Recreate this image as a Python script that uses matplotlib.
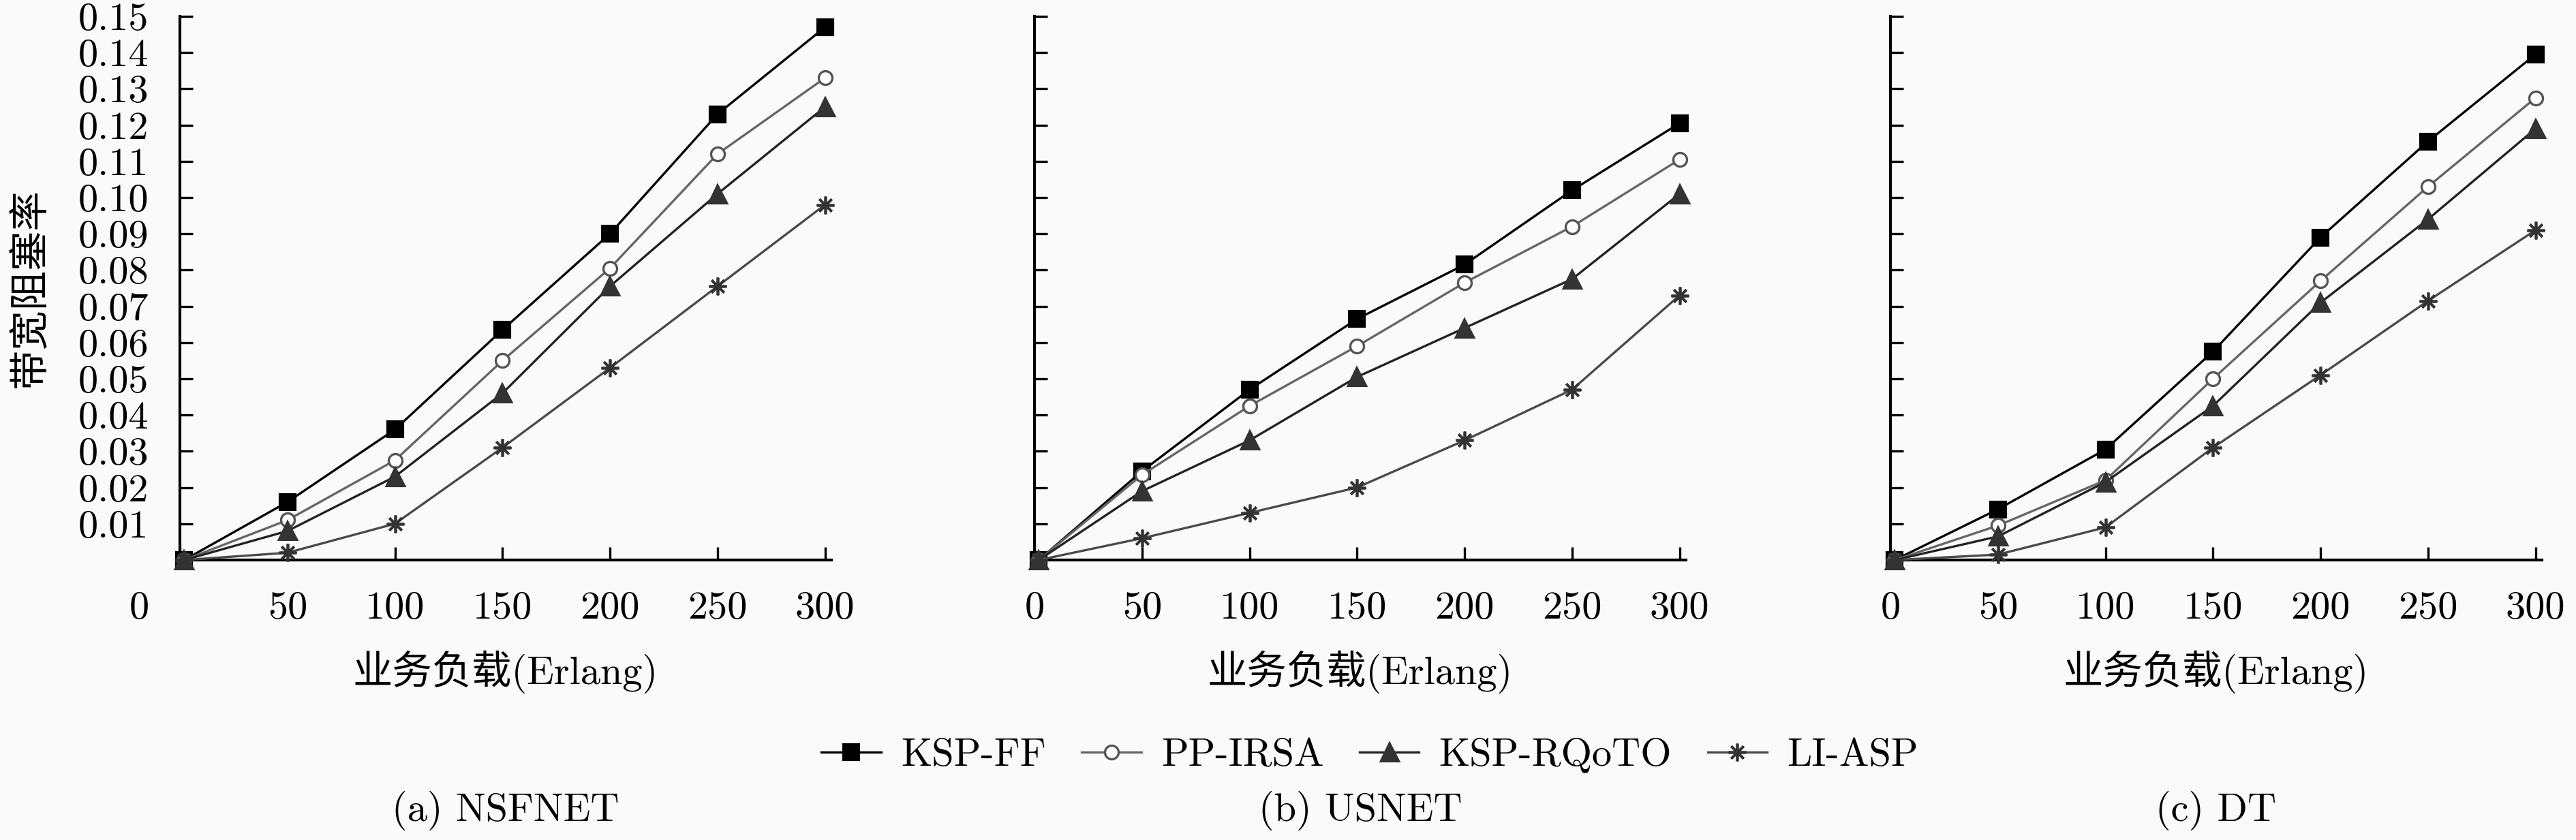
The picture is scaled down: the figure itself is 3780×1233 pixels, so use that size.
import matplotlib
matplotlib.use("Agg")
import matplotlib.pyplot as plt
from matplotlib.transforms import ScaledTranslation
import numpy as np

plt.rcParams['font.family'] = ['cmr10', 'Noto Sans CJK SC', 'DejaVu Sans']
plt.rcParams['axes.unicode_minus'] = False
plt.rcParams['mathtext.fontset'] = 'cm'

# ---------------- data ----------------
loads = [2, 50, 100, 150, 200, 250, 300]
series_names = ["KSP-FF", "PP-IRSA", "KSP-RQoTO", "LI-ASP"]
panel_titles = ["(a) NSFNET", "(b) USNET", "(c) DT"]

nsfnet_ksp_ff = [0.0, 0.016, 0.036, 0.0635, 0.090, 0.123, 0.147]
nsfnet_pp_irsa = [0.0, 0.011, 0.0275, 0.055, 0.0805, 0.112, 0.133]
nsfnet_ksp_rqoto = [0.0, 0.008, 0.023, 0.046, 0.0755, 0.101, 0.125]
nsfnet_li_asp = [0.0, 0.002, 0.010, 0.031, 0.053, 0.0755, 0.098]

usnet_ksp_ff = [0.0, 0.0245, 0.047, 0.0665, 0.0815, 0.102, 0.1205]
usnet_pp_irsa = [0.0, 0.0235, 0.0425, 0.059, 0.0765, 0.092, 0.1105]
usnet_ksp_rqoto = [0.0, 0.019, 0.033, 0.0505, 0.064, 0.0775, 0.101]
usnet_li_asp = [0.0, 0.006, 0.013, 0.020, 0.033, 0.047, 0.073]

dt_ksp_ff = [0.0, 0.014, 0.0305, 0.0575, 0.089, 0.1155, 0.1395]
dt_pp_irsa = [0.0, 0.0095, 0.022, 0.050, 0.077, 0.103, 0.1275]
dt_ksp_rqoto = [0.0, 0.0065, 0.0215, 0.0425, 0.071, 0.094, 0.119]
dt_li_asp = [0.0, 0.0015, 0.009, 0.031, 0.051, 0.0715, 0.091]

panels = [
    [nsfnet_ksp_ff, nsfnet_pp_irsa, nsfnet_ksp_rqoto, nsfnet_li_asp],
    [usnet_ksp_ff, usnet_pp_irsa, usnet_ksp_rqoto, usnet_li_asp],
    [dt_ksp_ff, dt_pp_irsa, dt_ksp_rqoto, dt_li_asp],
]

x_ticks = [0, 50, 100, 150, 200, 250, 300]
y_ticks = [i / 100 for i in range(16)]
y_tick_labels = [""] + ["%.2f" % v for v in y_ticks[1:]]
xlabel = "业务负载(Erlang)"
ylabel = "带宽阻塞率"

# ---------------- styles ----------------
styles = [
    dict(color="#000000", marker="s", markersize=5.2, markerfacecolor="#000000",
         markeredgecolor="#000000", linewidth=0.8),
    dict(color="#666666", marker="o", markersize=4.8, markerfacecolor="white",
         markeredgecolor="#555555", markeredgewidth=0.8, linewidth=0.8),
    dict(color="#222222", marker="^", markersize=6.0, markerfacecolor="#333333",
         markeredgecolor="#333333", linewidth=0.8),
    dict(color="#4a4a4a", marker=(8, 2, 0), markersize=6.2, markerfacecolor="#333333",
         markeredgecolor="#333333", markeredgewidth=0.9, linewidth=0.8),
]

W, H = 3780, 1233
dpi = 300
fig = plt.figure(figsize=(W / dpi, H / dpi), dpi=dpi, facecolor="#fafafa")

lefts = [264, 1518, 2774]
ax_w = 956
ax_top = 24
ax_bot = 822
fs = 14

handles = []
for p, (left, data) in enumerate(zip(lefts, panels)):
    ax = fig.add_axes([left / W, 1 - ax_bot / H, ax_w / W, (ax_bot - ax_top) / H])
    ax.set_facecolor("#fafafa")
    for name, vals, st in zip(series_names, data, styles):
        ln, = ax.plot(loads, vals, label=name, clip_on=False, zorder=3, **st)
        if p == 0:
            handles.append(ln)
    ax.set_xlim(0, 303)
    ax.set_ylim(0, 0.15)
    for s in ["top", "right"]:
        ax.spines[s].set_visible(False)
    for s in ["left", "bottom"]:
        ax.spines[s].set_linewidth(1.0)
    ax.set_xticks(x_ticks)
    ax.set_xticklabels([str(v) for v in x_ticks])
    ax.set_yticks(y_ticks)
    if p == 0:
        ax.set_yticklabels(y_tick_labels)
    else:
        ax.set_yticklabels([""] * len(y_ticks))
    ax.tick_params(axis="both", direction="in", length=4.6, width=0.8,
                   labelsize=fs, color="black")
    ax.tick_params(axis="x", pad=11)
    ax.tick_params(axis="y", pad=11)
    if p == 0:
        lab0 = ax.xaxis.get_major_ticks()[0].label1
        lab0.set_transform(lab0.get_transform() +
                           ScaledTranslation(-60 / dpi, 0, fig.dpi_scale_trans))
        ax.set_ylabel(ylabel, fontsize=fs, fontweight="light")
        ax.yaxis.set_label_coords(-192 / ax_w, 0.5)
    ax.set_xlabel(xlabel, fontsize=fs, fontweight="light")
    ax.xaxis.set_label_coords(0.5, -(955 - ax_bot) / (ax_bot - ax_top))
    cx = (left + ax_w / 2) / W
    fig.text(cx, 1 - 1190 / H, panel_titles[p], ha="center", va="center", fontsize=fs)

fig.legend(handles, series_names, loc="center", bbox_to_anchor=(2010 / W, 1 - 1109 / H),
           ncol=4, frameon=False, handlelength=1.5, handletextpad=0.5,
           columnspacing=0.9, fontsize=fs)

fig.savefig("out.png", dpi=dpi, facecolor=fig.get_facecolor())
